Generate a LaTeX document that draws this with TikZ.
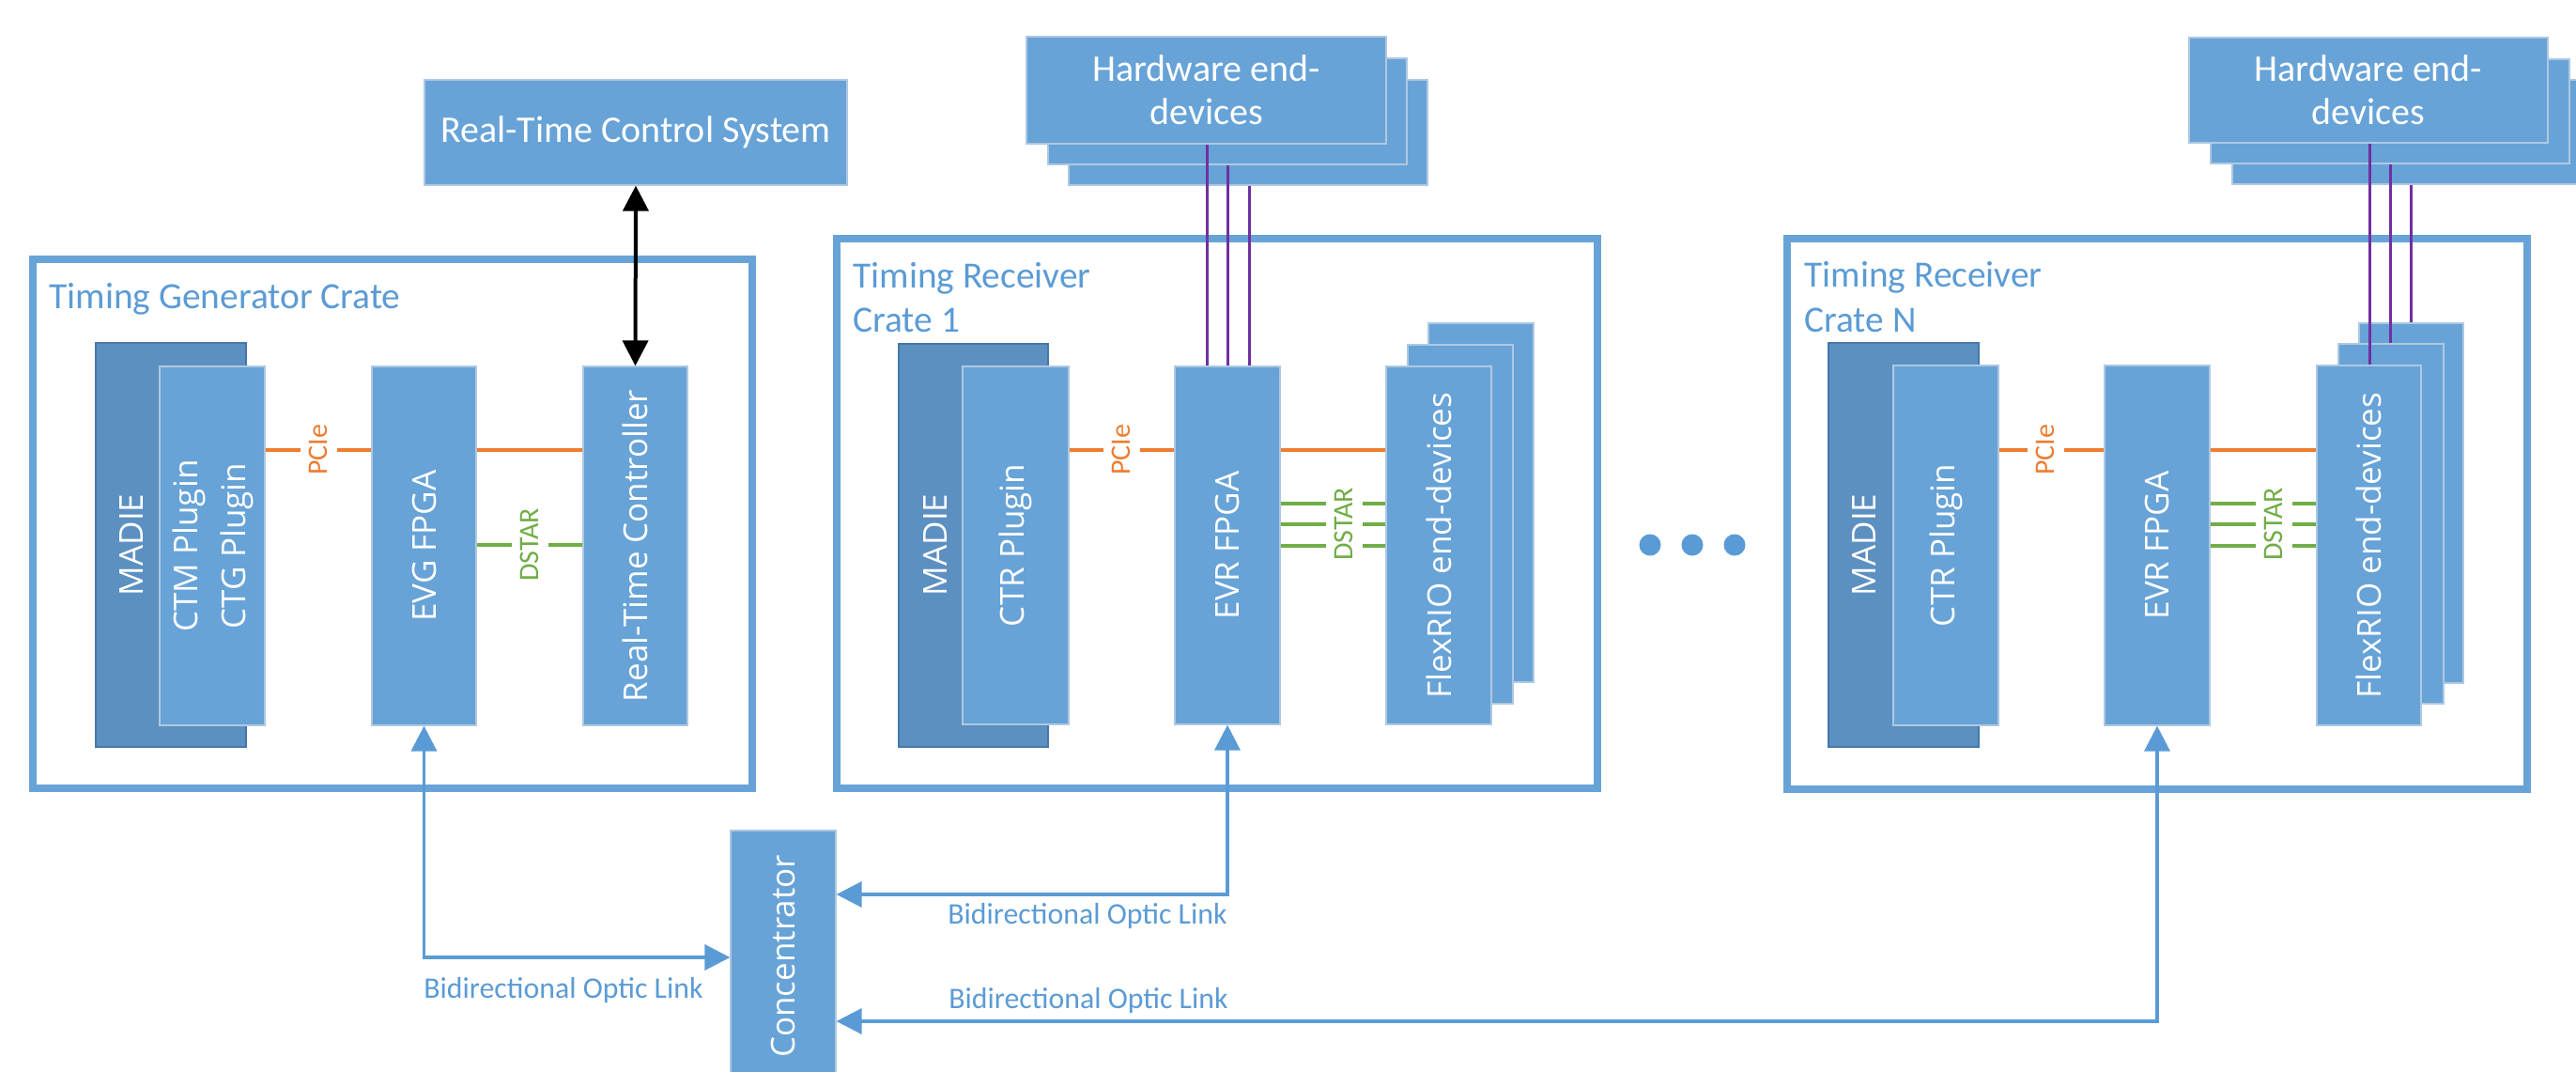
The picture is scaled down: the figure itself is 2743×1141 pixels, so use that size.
\documentclass[tikz,border=0pt]{standalone}
\usepackage{fontspec}
\usepackage{graphicx}
\usetikzlibrary{arrows.meta}
\newfontfamily\carlfont{Carlito}
\newfontfamily\osfont{Open Sans}
\definecolor{boxblue}{RGB}{103,163,215}
\definecolor{boxedge}{RGB}{175,200,225}
\definecolor{madieblue}{RGB}{92,144,193}
\definecolor{madieedge}{RGB}{70,120,170}
\definecolor{crateblue}{RGB}{103,163,215}
\definecolor{titleblue}{RGB}{91,155,213}
\definecolor{pcieorange}{RGB}{237,125,49}
\definecolor{dstargreen}{RGB}{112,173,71}
\definecolor{hwpurple}{RGB}{112,48,160}
\definecolor{opticblue}{RGB}{91,155,213}
\newcommand\mkbox[7]{%
  \pgfmathsetmacro\mkw{(#5-#3)*0.5}%
  \pgfmathsetmacro\mkh{(#6-#4)*0.5}%
  \pgfmathsetmacro\mkx{(#3+#5)/2}%
  \pgfmathsetmacro\mky{(#4+#6)/2}%
  \node[#1, minimum width=\mkw pt, minimum height=\mkh pt] (#2) at (\mkx,\mky) {#7};}
\newcommand\vtext[1]{\rotatebox{90}{#1}}
\begin{document}
\begin{tikzpicture}[x=0.5pt,y=-0.5pt,
  box/.style={rectangle, fill=boxblue, draw=boxedge, line width=0.6pt, inner sep=0pt, text=white, font=\osfont\fontsize{17.5}{25}\selectfont},
  hwbox/.style={box, align=center, font=\carlfont\fontsize{20}{23}\selectfont},
  madiebox/.style={rectangle, fill=madieblue, draw=madieedge, line width=1pt, inner sep=0pt},
  madietext/.style={inner sep=0pt, text=white, font=\osfont\fontsize{17.5}{25}\selectfont},
  crate/.style={rectangle, draw=crateblue, line width=4pt, inner sep=0pt},
  title/.style={anchor=base west, inner sep=0pt, text=titleblue, font=\carlfont\fontsize{19.7}{23.5}\selectfont},
  optlabel/.style={anchor=base west, inner sep=0pt, text=titleblue, font=\carlfont\fontsize{15.9}{18}\selectfont},
  buslabel/.style={rotate=90, fill=white, inner xsep=1pt, inner ysep=0pt, minimum height=19.5pt, font=\carlfont\fontsize{15}{18}\selectfont},
  pcie/.style={draw=pcieorange, line width=2pt},
  dstar/.style={draw=dstargreen, line width=2pt},
  purp/.style={draw=hwpurple, line width=1.5pt},
  optic/.style={draw=opticblue, line width=1.75pt, arrows={Triangle[length=13.5pt,width=13.5pt]-Triangle[length=13.5pt,width=13.5pt]}},
  blk/.style={draw=black, line width=2pt, arrows={Triangle[length=13.5pt,width=13.5pt]-Triangle[length=13.5pt,width=13.5pt]}},
  dot/.style={circle, fill=opticblue, inner sep=0pt, minimum size=11.5pt}
]
\clip (0,0) rectangle (2743,1141);
\fill[white] (0,0) rectangle (2743,1141);
% crates
\mkbox{crate}{gencrate}{35}{276}{801}{839}{}
\mkbox{crate}{crate1}{891}{254}{1701}{839}{}
\mkbox{crate}{crateN}{1903}{254}{2691}{840}{}
\node[title] (gentitle) at (52,328) {Timing Generator Crate};
\node[title] (c1titleA) at (908,306) {Timing Receiver};
\node[title] (c1titleB) at (908,353) {Crate 1};
\node[title] (cNtitleA) at (1921,305) {Timing Receiver};
\node[title] (cNtitleB) at (1921,353) {Crate N};
% top boxes
\mkbox{hwbox}{rtcs}{452}{85}{902}{197}{Real-Time Control System}
\mkbox{box}{hw1c}{1138}{85}{1520}{197}{}
\mkbox{box}{hw1b}{1116}{62}{1498}{175}{}
\mkbox{hwbox}{hw1a}{1093}{39}{1476}{153}{Hardware end-\\devices}
\mkbox{box}{hwNc}{2377}{85}{2759}{196}{}
\mkbox{box}{hwNb}{2354}{63}{2736}{174}{}
\mkbox{hwbox}{hwNa}{2331}{40}{2713}{152}{Hardware end-\\devices}
% generator crate
\mkbox{madiebox}{madieG}{102}{365}{262}{795}{}
\node[madietext] (madieGt) at (140,580) {\vtext{MADIE}};
\mkbox{box}{ctmg}{170}{390}{282}{772}{\vtext{\begin{tabular}{@{}c@{}}CTM Plugin\\CTG Plugin\end{tabular}}}
\mkbox{box}{evg}{396}{390}{507}{772}{\vtext{EVG FPGA}}
\mkbox{box}{rtc}{621}{390}{732}{772}{\vtext{Real-Time Controller}}
% receiver crate 1
\mkbox{madiebox}{madie1}{957}{366}{1116}{795}{}
\node[madietext] (madie1t) at (996,580) {\vtext{MADIE}};
\mkbox{box}{ctr1}{1025}{390}{1138}{771}{\vtext{CTR Plugin}}
\mkbox{box}{evr1}{1251}{390}{1363}{771}{\vtext{EVR FPGA}}
\mkbox{box}{flex1c}{1521}{344}{1633}{726}{}
\mkbox{box}{flex1b}{1499}{367}{1611}{749}{}
\mkbox{box}{flex1a}{1476}{390}{1588}{771}{\vtext{FlexRIO end-devices}}
% receiver crate N
\mkbox{madiebox}{madieN}{1947}{365}{2107}{795}{}
\node[madietext] (madieNt) at (1985,580) {\vtext{MADIE}};
\mkbox{box}{ctrN}{2016}{389}{2128}{772}{\vtext{CTR Plugin}}
\mkbox{box}{evrN}{2241}{389}{2353}{772}{\vtext{EVR FPGA}}
\mkbox{box}{flexNc}{2512}{344}{2623}{727}{}
\mkbox{box}{flexNb}{2490}{366}{2602}{749}{}
\mkbox{box}{flexNa}{2467}{389}{2578}{772}{\vtext{FlexRIO end-devices}}
% concentrator
\mkbox{box}{conc}{778}{884}{890}{1152}{\vtext{Concentrator}}
% dots
\node[dot] (dot1) at (1757,580) {};
\node[dot] (dot2) at (1802,580) {};
\node[dot] (dot3) at (1847,580) {};
% PCIe buses
\draw[pcie] (ctmg.east |- 0,479) -- (evg.west |- 0,479);
\draw[pcie] (evg.east |- 0,479) -- (rtc.west |- 0,479);
\draw[pcie] (ctr1.east |- 0,479) -- (evr1.west |- 0,479);
\draw[pcie] (evr1.east |- 0,479) -- (flex1a.west |- 0,479);
\draw[pcie] (ctrN.east |- 0,479) -- (evrN.west |- 0,479);
\draw[pcie] (evrN.east |- 0,479) -- (flexNa.west |- 0,479);
\node[buslabel, text=pcieorange] (pcieG) at (339,479) {PCIe};
\node[buslabel, text=pcieorange] (pcie1) at (1194,479) {PCIe};
\node[buslabel, text=pcieorange] (pcieN) at (2178,479) {PCIe};
% DSTAR buses
\draw[dstar] (evg.east |- 0,580) -- (rtc.west |- 0,580);
\foreach \yy in {536,558,581}{
  \draw[dstar] (evr1.east |- 0,\yy) -- (flex1a.west |- 0,\yy);
  \draw[dstar] (evrN.east |- 0,\yy) -- (flexNa.west |- 0,\yy);
}
\node[buslabel, text=dstargreen] (dstarG) at (564,580) {DSTAR};
\node[buslabel, text=dstargreen] (dstar1) at (1431,558) {DSTAR};
\node[buslabel, text=dstargreen] (dstarN) at (2421,558) {DSTAR};
% purple links
\draw[purp] (hw1a.south -| 1285,0) -- (evr1.north -| 1285,0);
\draw[purp] (hw1b.south -| 1307,0) -- (evr1.north -| 1307,0);
\draw[purp] (hw1c.south -| 1330,0) -- (evr1.north -| 1330,0);
\draw[purp] (hwNa.south -| 2523,0) -- (flexNa.north -| 2523,0);
\draw[purp] (hwNb.south -| 2545,0) -- (flexNb.north -| 2545,0);
\draw[purp] (hwNc.south -| 2567,0) -- (flexNc.north -| 2567,0);
% black link
\draw[blk] (rtcs.south) -- (rtc.north);
% optic links
\draw[optic] (evg.south) |- (conc.west |- 0,1019);
\draw[optic] (evr1.south) |- (conc.east |- 0,952);
\draw[optic] (evrN.south) |- (conc.east |- 0,1087);
\node[optlabel] (optG) at (451,1062) {Bidirectional Optic Link};
\node[optlabel] (opt1) at (1009,983) {Bidirectional Optic Link};
\node[optlabel] (optN) at (1010,1073) {Bidirectional Optic Link};
\end{tikzpicture}
\end{document}
